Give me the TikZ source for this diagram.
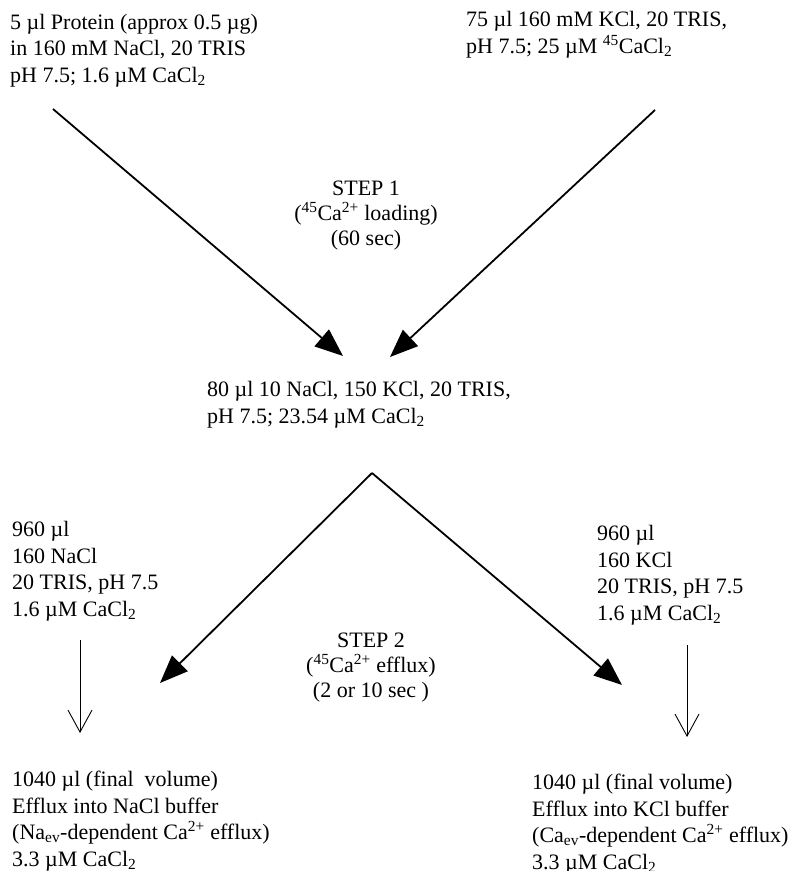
\documentclass[tikz,border=0pt]{standalone}
\usepackage{fontspec}
\setmainfont{Liberation Serif}
\usetikzlibrary{arrows.meta}
\tikzset{
  txt/.style={font=\fontsize{22}{26.5}\selectfont, inner sep=0pt, align=left, anchor=base west},
  stepnote/.style={font=\fontsize{22}{25}\selectfont, inner sep=0pt, align=center, anchor=base},
  bigarrow/.style={line width=1.8pt, -{Triangle[length=28pt,width=22pt]}},
  thinarrow/.style={line width=0.9pt, -{Straight Barb[length=22pt,width=24pt,line width=0.9pt]}}
}
\begin{document}
\begin{tikzpicture}[x=1pt,y=-1pt]
\useasboundingbox (0,0) rectangle (789,871);
% texts (anchor = baseline of the last line)
\node[txt] (tl) at (10,82) {5 µl Protein (approx 0.5 µg)\\in 160 mM NaCl, 20 TRIS\\pH 7.5; 1.6 µM CaCl\textsubscript{2}};
\node[txt] (tr) at (466,53) {75 µl 160 mM KCl, 20 TRIS,\\pH 7.5; 25 µM \textsuperscript{45}CaCl\textsubscript{2}};
\node[stepnote] (step1) at (366,245) {STEP 1\\(\textsuperscript{45}Ca\textsuperscript{2+} loading)\\(60 sec)};
\node[txt] (mid) at (207,423) {80 µl 10 NaCl, 150 KCl, 20 TRIS,\\pH 7.5; 23.54 µM CaCl\textsubscript{2}};
\node[txt] (lcol) at (12,616) {960 µl\\160 NaCl\\20 TRIS, pH 7.5\\1.6 µM CaCl\textsubscript{2}};
\node[txt] (rcol) at (597,620) {960 µl\\160 KCl\\20 TRIS, pH 7.5\\1.6 µM CaCl\textsubscript{2}};
\node[stepnote] (step2) at (371,697) {STEP 2\\(\textsuperscript{45}Ca\textsuperscript{2+} efflux)\\(2 or 10 sec )};
\node[txt] (lfin) at (12,866) {1040 µl (final~ volume)\\Efflux into NaCl buffer\\(Na\textsubscript{ev}-dependent Ca\textsuperscript{2+} efflux)\\3.3 µM CaCl\textsubscript{2}};
\node[txt] (rfin) at (532,869) {1040 µl (final volume)\\Efflux into KCl buffer\\(Ca\textsubscript{ev}-dependent Ca\textsuperscript{2+} efflux)\\3.3 µM CaCl\textsubscript{2}};
% connector ends
\coordinate (a1s) at (53,109);
\coordinate (a1e) at (343,356);
\coordinate (a2s) at (655,110);
\coordinate (a2e) at (390,357);
\coordinate (apex) at (372,473);
\coordinate (l2) at (160,683);
\coordinate (r2) at (622,685);
\coordinate (t1s) at (80,640);
\coordinate (t1e) at (80,733);
\coordinate (t2s) at (687,645);
\coordinate (t2e) at (687,737);
% arrows
\draw[bigarrow] (a1s) -- (a1e);
\draw[bigarrow] (a2s) -- (a2e);
\draw[bigarrow] (apex) -- (l2);
\draw[bigarrow] (apex) -- (r2);
\draw[thinarrow] (t1s) -- (t1e);
\draw[thinarrow] (t2s) -- (t2e);
\end{tikzpicture}
\end{document}
